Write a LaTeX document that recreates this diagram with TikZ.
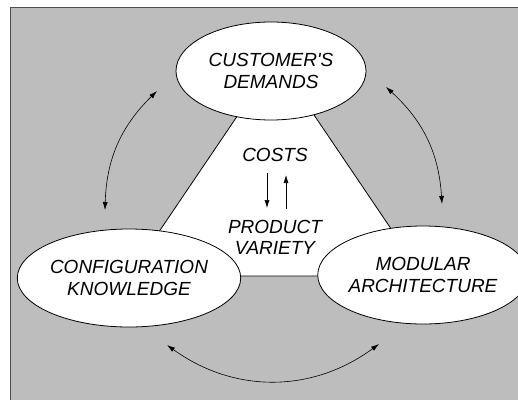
\documentclass[tikz,border=0pt]{standalone}
\usepackage{fontspec}
\setmainfont{Liberation Sans}[Ligatures=TeXOff]
\usetikzlibrary{shapes.geometric,arrows.meta}
\definecolor{panelgray}{HTML}{BDBDBD}
\begin{document}
\begin{tikzpicture}[x=1pt,y=-1pt,
    factor/.style={ellipse,draw,thick,fill=white,inner sep=0pt,
      minimum width=190pt,minimum height=98pt,align=center,
      font=\fontsize{19}{22}\selectfont\itshape},
    centretext/.style={align=center,font=\fontsize{19}{21}\selectfont\itshape},
    link/.style={{Latex[length=8pt,width=5pt]}-{Latex[length=8pt,width=5pt]},semithick}]
  \useasboundingbox (0,0) rectangle (518,399);
  \fill[panelgray] (10,7) rectangle (530,410);
  \draw[thick,black!70] (10,410) -- (10,7) -- (530,7);
  % white triangle behind the ellipses
  \fill[white,draw=black,thick] (240,112) -- (312,112) -- (423,276) -- (129,276) -- cycle;
  \draw
    (271,71) node[factor] (demands){CUSTOMER'S\\DEMANDS}
    (129,278) node[factor] (knowledge){CONFIGURATION\\KNOWLEDGE}
    (423,275) node[factor] (architecture){MODULAR\\ARCHITECTURE}
    (275,155) node[centretext] (costs){COSTS}
    (275,237) node[centretext] (variety){PRODUCT\\VARIETY};
  \coordinate (k1) at (105,210);
  \coordinate (d1) at (157,91);
  \coordinate (d2) at (386,87);
  \coordinate (a1) at (442,204);
  \coordinate (k2) at (167,345);
  \coordinate (a2) at (379,344);
  \begin{scope}[link]
    \draw (k1) to[bend left=22] (d1);
    \draw (d2) to[bend left=22] (a1);
    \draw (a2) to[bend left=36] (k2);
  \end{scope}
  \draw[-{Latex[length=8pt,width=5pt]},semithick] (267,173) -- (267,208);
  \draw[-{Latex[length=8pt,width=5pt]},semithick] (286,209) -- (286,175);
\end{tikzpicture}
\end{document}
